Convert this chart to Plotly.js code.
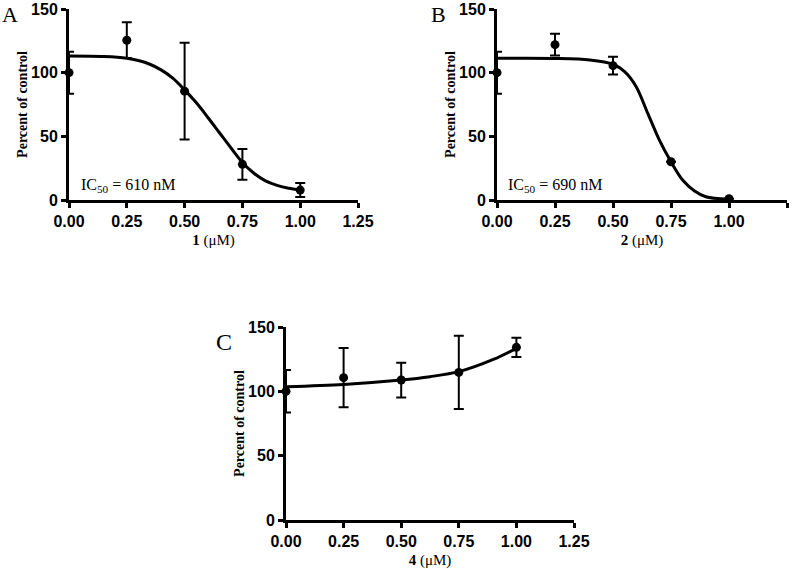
<!DOCTYPE html>
<html>
<head>
<meta charset="utf-8">
<script src="https://cdn.plot.ly/plotly-3.0.1.min.js"></script>
<style>
  html, body { margin: 0; padding: 0; background: #fff; }
  #chart { width: 800px; height: 569px; }
</style>
</head>
<body>
<div id="chart"></div>
<script>
    // concentrations (uM)
    var conc = [0, 0.25, 0.5, 0.75, 1.0];

    // measured points, percent of control
    var pctA = [100, 125.5, 85.5, 28, 7.8];
    var errA = [16.5, 14, 38, 12, 5.5];
    var pctB = [100, 122, 105.5, 30, 1];
    var errB = [16.5, 8.5, 7, null, null];
    var pctC = [100, 110.6, 108.8, 114.7, 134.2];
    var errC = [16.5, 23, 13.5, 28.5, 7.5];

    // fitted curves
    var fitAx = [0, 0.15, 0.25, 0.3, 0.35, 0.4, 0.45, 0.5, 0.55, 0.6, 0.65, 0.7, 0.75, 0.8, 0.85, 0.9, 0.95, 1.0];
    var fitAy = [113, 112.6, 111.3, 109.5, 106.6, 102, 95.5, 86.5, 76.5, 65, 53, 41, 29.5, 21, 15, 11.5, 9.3, 8];
    var fitBx = [0, 0.25, 0.4, 0.5, 0.55, 0.6, 0.65, 0.7, 0.75, 0.8, 0.85, 0.9, 1.0];
    var fitBy = [111.3, 111.2, 110, 106.6, 100.8, 89, 68, 47, 30, 15.7, 7.3, 2.6, 0.5];
    var fitCx = [0, 0.25, 0.5, 0.625, 0.75, 0.9, 1.0];
    var fitCy = [103.6, 105.4, 108.8, 111.4, 115.3, 124.8, 133.4];

    var xTicks = [0, 0.25, 0.5, 0.75, 1.0, 1.25];
    var xTickText = ['0.00', '0.25', '0.50', '0.75', '1.00', '1.25'];
    var yTicks = [0, 50, 100, 150];

    var serif = 'Liberation Serif, Times New Roman, serif';
    var sans = 'Liberation Sans, Arial, sans-serif';

    function fitTrace(x, y, ax) {
        return {
            x: x, y: y, xaxis: ax.x, yaxis: ax.y,
            mode: 'lines',
            line: { color: 'black', width: 3, shape: 'spline', smoothing: 0.9 },
            hoverinfo: 'skip',
            cliponaxis: false
        };
    }

    function pointTrace(y, err, ax) {
        return {
            x: conc, y: y, xaxis: ax.x, yaxis: ax.y,
            mode: 'markers',
            marker: { color: 'black', size: 9 },
            error_y: { type: 'data', array: err, visible: true, color: 'black', thickness: 2, width: 5 },
            cliponaxis: false
        };
    }

    function xAxis(domain, anchor, label) {
        return {
            domain: domain, anchor: anchor, range: [0, 1.25],
            showgrid: false, zeroline: false,
            showline: true, linecolor: 'black', linewidth: 3,
            ticks: 'outside', ticklen: 5, tickwidth: 3, tickcolor: 'black',
            tickvals: xTicks, ticktext: xTickText,
            tickfont: { family: sans, size: 16, weight: 'bold', color: 'black' },
            title: { text: '<b>' + label + '</b> (\u03bcM)', font: { family: serif, size: 15, color: 'black' }, standoff: 6 }
        };
    }

    function yAxis(domain, anchor) {
        return {
            domain: domain, anchor: anchor, range: [0, 150],
            showgrid: false, zeroline: false,
            showline: true, linecolor: 'black', linewidth: 3,
            ticks: 'outside', ticklen: 5, tickwidth: 3, tickcolor: 'black',
            tickvals: yTicks,
            tickfont: { family: sans, size: 16, weight: 'bold', color: 'black' },
            title: { text: 'Percent of control', font: { family: serif, size: 14, weight: 'bold', color: 'black' }, standoff: 1 }
        };
    }

    function letter(txt, px, py, size, yanchor) {
        return {
            text: txt, x: px / 800, y: 1 - py / 569, xref: 'paper', yref: 'paper',
            xanchor: 'center', yanchor: yanchor, showarrow: false,
            font: { family: serif, size: size, color: 'black' }
        };
    }

    var data = [
        fitTrace(fitAx, fitAy, { x: 'x', y: 'y' }),
        pointTrace(pctA, errA, { x: 'x', y: 'y' }),
        fitTrace(fitBx, fitBy, { x: 'x2', y: 'y2' }),
        pointTrace(pctB, errB, { x: 'x2', y: 'y2' }),
        fitTrace(fitCx, fitCy, { x: 'x3', y: 'y3' }),
        pointTrace(pctC, errC, { x: 'x3', y: 'y3' })
    ];

    var topRow = [1 - 200 / 569, 1 - 9 / 569];
    var bottomRow = [1 - 520 / 569, 1 - 327 / 569];

    var layout = {
        width: 800,
        height: 569,
        margin: { l: 0, r: 0, t: 0, b: 0 },
        paper_bgcolor: 'white',
        plot_bgcolor: 'white',
        showlegend: false,
        xaxis: xAxis([69 / 800, 358 / 800], 'y', '1'),
        yaxis: yAxis(topRow, 'x'),
        xaxis2: xAxis([497 / 800, 787 / 800], 'y2', '2'),
        yaxis2: yAxis(topRow, 'x2'),
        xaxis3: xAxis([286 / 800, 574 / 800], 'y3', '4'),
        yaxis3: yAxis(bottomRow, 'x3'),
        annotations: [
            { text: 'IC<sub>50</sub> = 610 nM', x: 0.255, y: 11, xref: 'x', yref: 'y', showarrow: false,
              xanchor: 'center', yanchor: 'middle', font: { family: serif, size: 16, color: 'black' } },
            { text: 'IC<sub>50</sub> = 690 nM', x: 0.25, y: 11, xref: 'x2', yref: 'y2', showarrow: false,
              xanchor: 'center', yanchor: 'middle', font: { family: serif, size: 16, color: 'black' } },
            letter('A', 10, 0, 22, 'top'),
            letter('B', 438, 0, 22, 'top'),
            letter('C', 224, 342, 24, 'middle')
        ]
    };

    Plotly.newPlot('chart', data, layout, { staticPlot: true });
</script>
</body>
</html>
